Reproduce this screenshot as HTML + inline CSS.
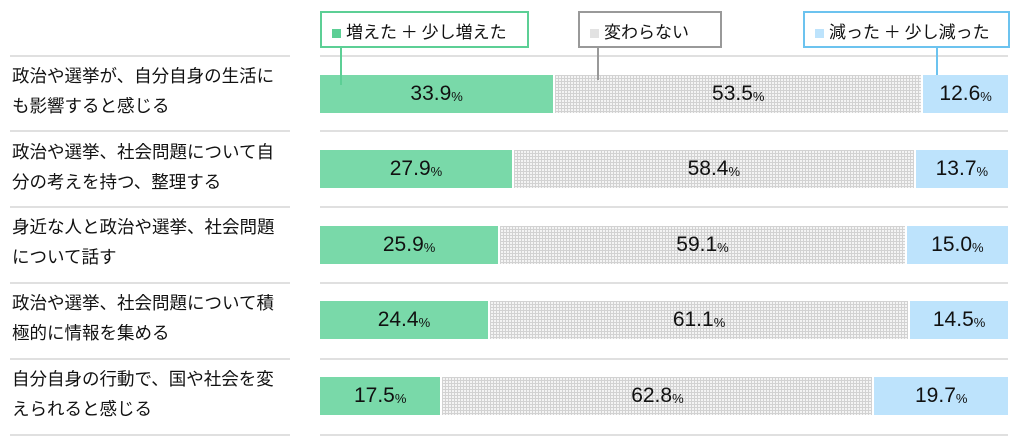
<!DOCTYPE html>
<html><head><meta charset="utf-8"><style>
body{margin:0;width:1024px;height:446px;background:#fff;font-family:"Liberation Sans","Noto Sans CJK JP",sans-serif;position:relative;overflow:hidden;color:#111}
.a{position:absolute}
.sep{position:absolute;height:2px;background:#e0e0e0}
.lab{position:absolute;left:12px;width:272px;font-size:17.5px;line-height:30px;font-family:"Noto Sans CJK JP",sans-serif;letter-spacing:0px}
.bar{position:absolute;left:320px;width:688px;height:38px;display:flex}
.bar div{height:100%;display:flex;align-items:center;justify-content:center;font-size:21px}
.bar small{font-size:13px;margin-top:4px}
.g{background:#79d9a9}
.p{background-color:#f4f4f4;background-image:linear-gradient(#d2d2d2 1px,transparent 1px),linear-gradient(90deg,#d2d2d2 1px,transparent 1px);background-size:3px 3px;border-left:2px solid #fff;box-sizing:border-box}
.b{background:#bde3fc;border-left:2px solid #fff;box-sizing:border-box}
.leg{position:absolute;top:11px;height:33px;border:2px solid;background:#fff;font-size:17px;line-height:36px;padding-left:10px;font-family:"Noto Sans CJK JP",sans-serif}
.leg i{display:inline-block;width:9px;height:9px;margin-right:5px;vertical-align:0px}
</style></head><body>
<div class="sep" style="left:10px;width:280px;top:55px"></div>
<div class="sep" style="left:320px;width:688px;top:55px"></div>
<div class="sep" style="left:10px;width:280px;top:130px"></div>
<div class="sep" style="left:10px;width:280px;top:206px"></div>
<div class="sep" style="left:10px;width:280px;top:282px"></div>
<div class="sep" style="left:10px;width:280px;top:358px"></div>
<div class="sep" style="left:10px;width:280px;top:434px"></div>
<div class="sep" style="left:320px;width:688px;top:130px"></div>
<div class="sep" style="left:320px;width:688px;top:206px"></div>
<div class="sep" style="left:320px;width:688px;top:282px"></div>
<div class="sep" style="left:320px;width:688px;top:358px"></div>
<div class="sep" style="left:320px;width:688px;top:434px"></div>

<div class="leg" style="left:320px;width:195px;border-color:#5ccf95"><i style="background:#5ccf95"></i>増えた ＋ 少し増えた</div>
<div class="leg" style="left:578px;width:130px;border-color:#999"><i style="background:#e2e2e2"></i>変わらない</div>
<div class="leg" style="left:803px;width:193px;border-color:#6cc3ef"><i style="background:#bde3fc"></i>減った ＋ 少し減った</div>

<div class="lab" style="top:61px">政治や選挙が、自分自身の生活にも影響すると感じる</div>
<div class="lab" style="top:137px">政治や選挙、社会問題について自分の考えを持つ、整理する</div>
<div class="lab" style="top:212px">身近な人と政治や選挙、社会問題について話す</div>
<div class="lab" style="top:288px">政治や選挙、社会問題について積極的に情報を集める</div>
<div class="lab" style="top:364px">自分自身の行動で、国や社会を変えられると感じる</div>

<div class="bar" style="top:75px"><div class="g" style="width:33.9%">33.9<small>%</small></div><div class="p" style="width:53.5%">53.5<small>%</small></div><div class="b" style="width:12.6%">12.6<small>%</small></div></div>
<div class="bar" style="top:150px"><div class="g" style="width:27.9%">27.9<small>%</small></div><div class="p" style="width:58.4%">58.4<small>%</small></div><div class="b" style="width:13.7%">13.7<small>%</small></div></div>
<div class="bar" style="top:226px"><div class="g" style="width:25.9%">25.9<small>%</small></div><div class="p" style="width:59.1%">59.1<small>%</small></div><div class="b" style="width:15.0%">15.0<small>%</small></div></div>
<div class="bar" style="top:301px"><div class="g" style="width:24.4%">24.4<small>%</small></div><div class="p" style="width:61.1%">61.1<small>%</small></div><div class="b" style="width:14.5%">14.5<small>%</small></div></div>
<div class="bar" style="top:377px"><div class="g" style="width:17.5%">17.5<small>%</small></div><div class="p" style="width:62.8%">62.8<small>%</small></div><div class="b" style="width:19.7%">19.7<small>%</small></div></div>

<div class="a" style="left:340px;top:47px;width:2px;height:38px;background:#5ccf95"></div>
<div class="a" style="left:597px;top:47px;width:2px;height:33px;background:#999"></div>
<div class="a" style="left:936px;top:47px;width:2px;height:28px;background:#6cc3ef"></div>
</body></html>
